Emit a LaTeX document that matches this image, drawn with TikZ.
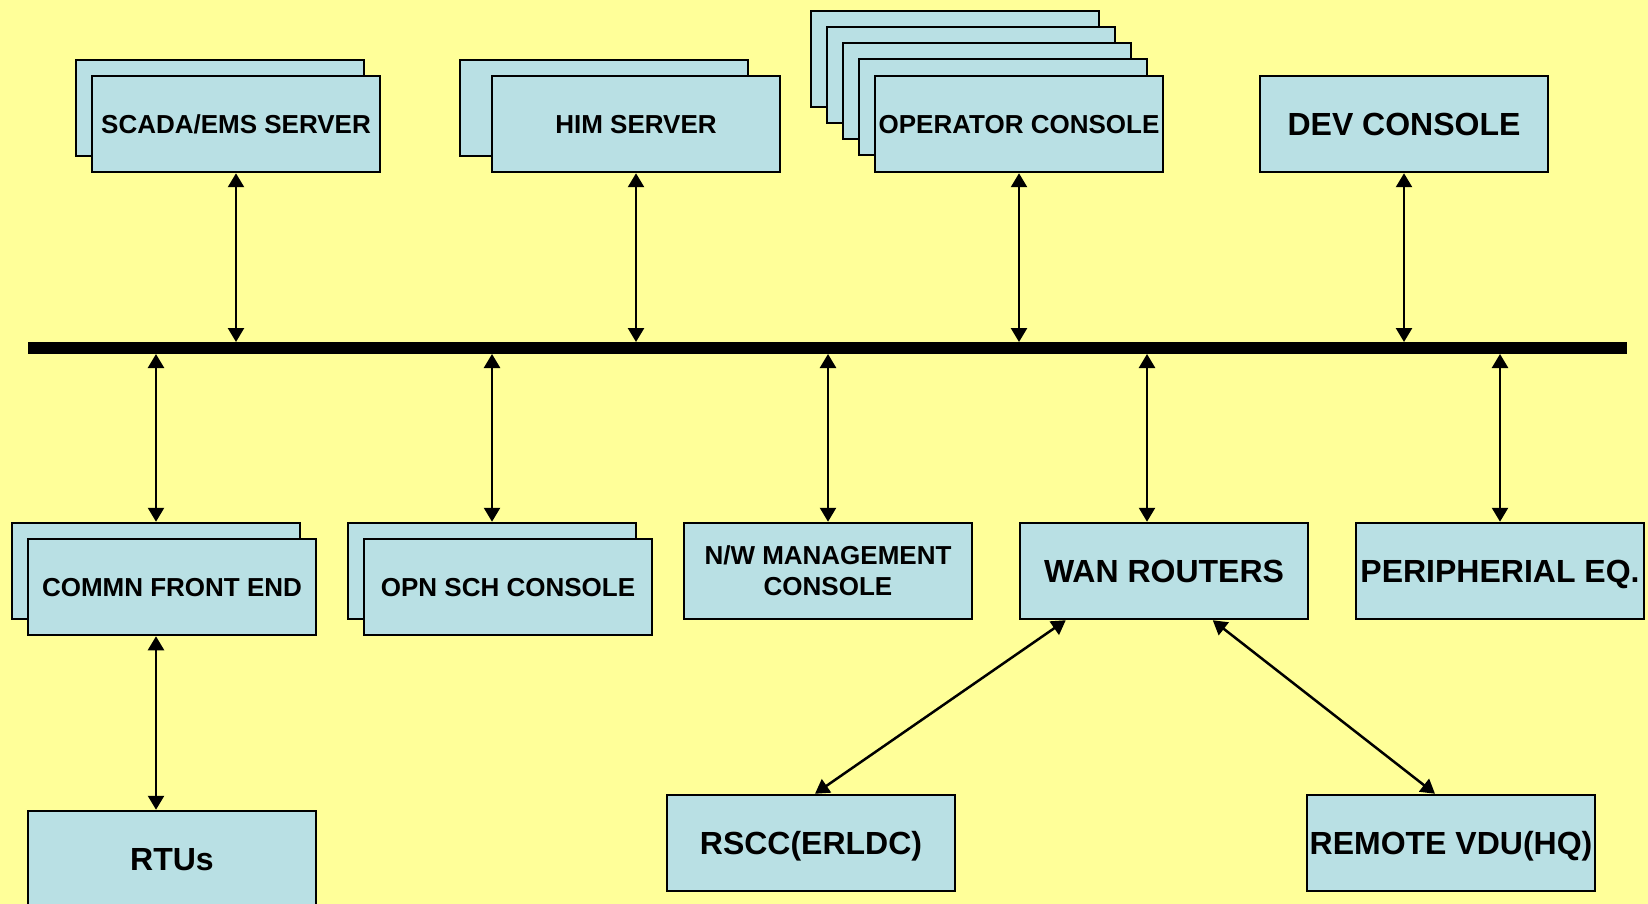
\documentclass[tikz,border=0pt]{standalone}
\usepackage{fontspec}
\setmainfont{Liberation Sans}
\usetikzlibrary{arrows.meta,calc}
\definecolor{bg}{RGB}{255,255,153}
\definecolor{boxfill}{RGB}{185,224,228}
\begin{document}
\begin{tikzpicture}[x=1pt,y=-1pt,
 box/.style={draw=black,line width=2.5pt,fill=boxfill,minimum width=288pt,minimum height=96pt,inner sep=0pt,font=\bfseries\fontsize{26}{31}\selectfont,align=center},
 one/.style={text height=18.6pt,text depth=0pt},
 big/.style={font=\bfseries\fontsize{32}{38}\selectfont,text height=22.9pt,text depth=0pt},
 arr/.style={line width=2.5pt,{Triangle[length=14pt,width=16pt]}-{Triangle[length=14pt,width=16pt]}},
 bus/.style={line width=12pt}]
\fill[bg] (0,0) rectangle (1648,904);
\useasboundingbox (0,0) rectangle (1648,904);
% top row
\node[box] (scadab) at (220,108) {};
\node[box,one] (scada) at (236,124) {SCADA/EMS SERVER};
\node[box] (himb) at (604,108) {};
\node[box,one] (him) at (636,124) {HIM SERVER};
\node[box] (op1) at (955,59) {};
\node[box] (op2) at (971,75) {};
\node[box] (op3) at (987,91) {};
\node[box] (op4) at (1003,107) {};
\node[box,one] (op) at (1019,124) {OPERATOR CONSOLE};
\node[box,big] (dev) at (1404,124) {DEV CONSOLE};
% bus
\coordinate (busL) at (28,348);
\coordinate (busR) at (1627,348);
\coordinate (bustop) at (0,342);
\coordinate (busbot) at (0,354);
\draw[bus] (busL) -- (busR);
% bottom row
\node[box] (cfeb) at (156,571) {};
\node[box,one] (cfe) at (172,587) {COMMN FRONT END};
\node[box] (opnb) at (492,571) {};
\node[box,one] (opn) at (508,587) {OPN SCH CONSOLE};
\node[box] (nw) at (828,571) {N/W MANAGEMENT\\CONSOLE};
\node[box,big] (wan) at (1164,571) {WAN ROUTERS};
\node[box,big] (per) at (1500,571) {PERIPHERIAL EQ.};
\node[box,big] (rtu) at (172,859) {RTUs};
\node[box,big] (rscc) at (811,843) {RSCC(ERLDC)};
\node[box,big] (vdu) at (1451,843) {REMOTE VDU(HQ)};
% connectors top
\draw[arr] (scada.south) -- (scada.south |- bustop);
\draw[arr] (him.south) -- (him.south |- bustop);
\draw[arr] (op.south) -- (op.south |- bustop);
\draw[arr] (dev.south) -- (dev.south |- bustop);
% connectors bottom
\draw[arr] (cfeb.north) -- (cfeb.north |- busbot);
\draw[arr] (opnb.north) -- (opnb.north |- busbot);
\draw[arr] (nw.north) -- (nw.north |- busbot);
\coordinate (wantop) at ($(wan.north)+(-17,0)$);
\draw[arr] (wantop) -- (wantop |- busbot);
\draw[arr] (per.north) -- (per.north |- busbot);
\draw[arr] (cfeb.north |- cfe.south) -- (cfeb.north |- rtu.north);
\coordinate (wanA) at ($(wan.south west)+(47,0)$);
\coordinate (wanB) at ($(wan.south west)+(194,0)$);
\draw[arr] (wanA) -- ($(rscc.north)+(4,0)$);
\draw[arr] (wanB) -- ($(vdu.north)+(-16,0)$);
\end{tikzpicture}
\end{document}
